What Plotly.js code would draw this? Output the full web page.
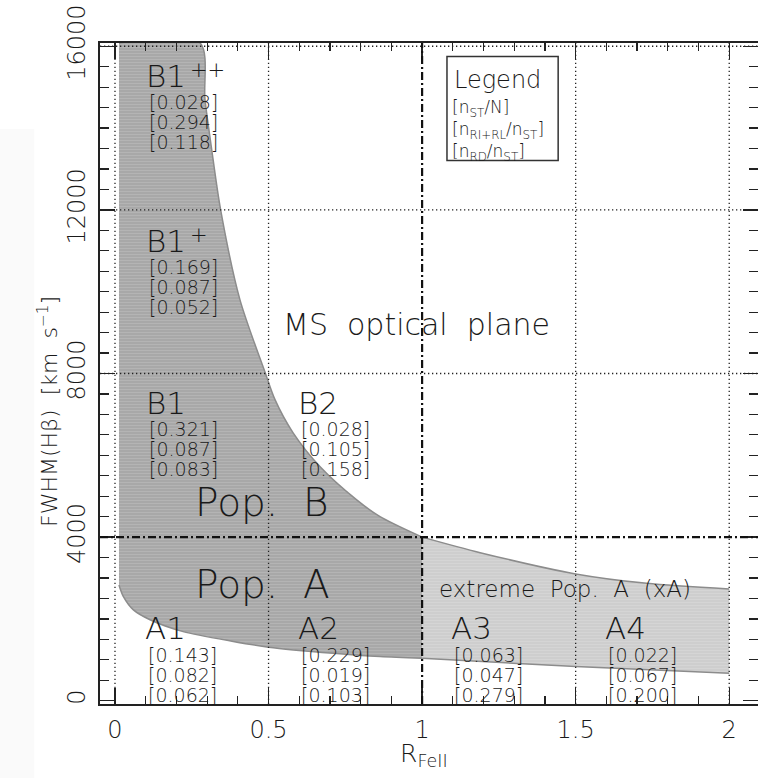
<!DOCTYPE html>
<html><head><meta charset="utf-8">
<script src="https://cdn.plot.ly/plotly-3.0.1.min.js"></script>
<style>body{margin:0;background:#fff}#chart{width:758px;height:778px}</style>
</head><body><div id="chart"></div>
<script>
// ---- data ----
// upper boundary: Pop.B / Pop.A separation curve (R_FeII, FWHM)
const upperX = [0.277, 0.293, 0.315, 0.344, 0.407, 0.490, 0.521, 0.580, 0.668, 0.787, 0.863, 1.0, 1.189, 1.5, 1.731, 2.0];
const upperY = [16080, 14700, 13470, 12000, 9800, 8000, 7360, 6550, 5720, 4910, 4500, 4000, 3620, 3100, 2870, 2730];
// lower boundary of the populated sequence
const lowerX = [0.013, 0.027, 0.060, 0.114, 0.222, 0.385, 0.500, 0.711, 0.863, 1.0, 1.5, 2.0];
const lowerY = [2830, 2550, 2220, 1980, 1690, 1450, 1310, 1160, 1080, 1040, 834, 673];
const regionLeftX = 0.013;
const regionTopY = 16080;
const gridXVals = [0, 0.5, 1.5, 2];
const gridYVals = [8000, 12000, 16000];
const boundaryX = 1;      // R_FeII = 1 (xA limit)
const boundaryY = 4000;   // FWHM = 4000 km/s (Pop. A / B)

const binNames = ['B1', 'B1', 'B1', 'B2', 'A1', 'A2', 'A3', 'A4'];
const binSup = ['++', '+', '', '', '', '', '', ''];
const fracST = [0.028, 0.169, 0.321, 0.028, 0.143, 0.229, 0.063, 0.022];
const fracRIRL = [0.294, 0.087, 0.087, 0.105, 0.082, 0.019, 0.047, 0.067];
const fracRD = [0.118, 0.052, 0.083, 0.158, 0.062, 0.103, 0.279, 0.200];
const legendRows = ['[n<sub>ST</sub>/N]', '[n<sub>RI+RL</sub>/n<sub>ST</sub>]', '[n<sub>RD</sub>/n<sub>ST</sub>]'];

// ---- layout positions (not data) ----
const binPos = [[0.107,15274],[0.107,11249],[0.107,7283],[0.602,7283],[0.104,1769],[0.602,1769],[1.101,1769],[1.602,1769]];
const rowShift = [-26.5, -46.5, -66.5];

const FONT = 'DejaVu Sans';
const TXT = '#1a1a1a';
const DARK = '#a8a8a8', DARK2 = '#b5b5b5', LIGHT = '#cecece', LIGHT2 = '#d6d6d6', EDGE = '#8c8c8c';

function sel(xs, ys, f){ const ox=[], oy=[]; xs.forEach((x,i)=>{ if(f(x)){ox.push(x); oy.push(ys[i]);} }); return [ox, oy]; }
const [dLx, dLy] = sel(lowerX, lowerY, x => x <= boundaryX);
const [dUx0, dUy0] = sel(upperX, upperY, x => x <= boundaryX);
const dUx = [regionLeftX].concat(dUx0), dUy = [regionTopY].concat(dUy0);
const [lLx, lLy] = sel(lowerX, lowerY, x => x >= boundaryX);
const [lUx, lUy] = sel(upperX, upperY, x => x >= boundaryX);

const traces = [
  {x: dLx, y: dLy, mode: 'lines', line: {color: EDGE, width: 1.5, shape: 'spline', smoothing: 0.8}, hoverinfo: 'skip', showlegend: false},
  {x: dUx, y: dUy, mode: 'lines', fill: 'tonexty', fillcolor: DARK,
   fillpattern: {shape: '-', bgcolor: DARK, fgcolor: DARK2, size: 3, solidity: 0.3},
   line: {color: EDGE, width: 1.5, shape: 'spline', smoothing: 0.8}, hoverinfo: 'skip', showlegend: false},
  {x: lLx, y: lLy, mode: 'lines', line: {color: EDGE, width: 1.5, shape: 'spline', smoothing: 0.8}, hoverinfo: 'skip', showlegend: false},
  {x: lUx, y: lUy, mode: 'lines', fill: 'tonexty', fillcolor: LIGHT,
   fillpattern: {shape: '-', bgcolor: LIGHT, fgcolor: LIGHT2, size: 3, solidity: 0.3},
   line: {color: EDGE, width: 1.5, shape: 'spline', smoothing: 0.8}, hoverinfo: 'skip', showlegend: false}
];

const shapes = [];
// faint scan strip at far left
shapes.push({type: 'rect', xref: 'paper', yref: 'paper', x0: -0.152, x1: -0.1, y0: -0.112, y1: 0.87, fillcolor: '#fafafa', line: {width: 0}, layer: 'below'});
gridXVals.forEach(v => shapes.push({type: 'line', xref: 'x', yref: 'paper', x0: v, x1: v, y0: 0, y1: 1, line: {color: '#222', width: 1.3, dash: '1.3px,2.7px'}, layer: 'above'}));
gridYVals.forEach(v => shapes.push({type: 'line', xref: 'paper', yref: 'y', x0: 0, x1: 1, y0: v, y1: v, line: {color: '#222', width: 1.3, dash: '1.3px,2.7px'}, layer: 'above'}));
shapes.push({type: 'line', xref: 'x', yref: 'paper', x0: boundaryX, x1: boundaryX, y0: 0, y1: 1, line: {color: '#111', width: 2.2, dash: '8px,3px,2px,3px'}, layer: 'above'});
shapes.push({type: 'line', xref: 'paper', yref: 'y', x0: 0, x1: 1, y0: boundaryY, y1: boundaryY, line: {color: '#111', width: 2.2, dash: '8px,3px,2px,3px'}, layer: 'above'});
// legend box
shapes.push({type: 'rect', xref: 'x', yref: 'y', x0: 1.081, x1: 1.443, y0: 13205, y1: 15749, line: {color: '#333', width: 1.5}, fillcolor: 'rgba(0,0,0,0)', layer: 'above'});

const ann = [];
const f = (size, w) => ({family: FONT, size: size, color: TXT, weight: w || 200});
binNames.forEach((name, i) => {
  const [bx, by] = binPos[i];
  ann.push({x: bx, y: by, xshift: -4, xref: 'x', yref: 'y', text: name, showarrow: false, xanchor: 'left', yanchor: 'middle', font: f(31)});
  if (binSup[i]) ann.push({x: bx, y: by, xshift: 40, yshift: 6, xref: 'x', yref: 'y', text: binSup[i], showarrow: false, xanchor: 'left', yanchor: 'middle', font: f(21, 300)});
  [fracST[i], fracRIRL[i], fracRD[i]].forEach((v, k) => {
    ann.push({x: bx - 0.004, y: by, yshift: rowShift[k], xref: 'x', yref: 'y', text: '[' + v.toFixed(3) + ']', showarrow: false, xanchor: 'left', yanchor: 'middle', font: f(19)});
  });
});
ann.push({x: 0.255, y: 4839, xref: 'x', yref: 'y', text: 'Pop.  B', showarrow: false, xanchor: 'left', yanchor: 'middle', font: f(39)});
ann.push({x: 0.255, y: 2833, xref: 'x', yref: 'y', text: 'Pop.  A', showarrow: false, xanchor: 'left', yanchor: 'middle', font: f(39)});
ann.push({x: 1.048, y: 2735, xref: 'x', yref: 'y', text: 'extreme  Pop.  A  (xA)', showarrow: false, xanchor: 'left', yanchor: 'middle', font: f(23)});
ann.push({x: 0.540, y: 9194, xref: 'x', yref: 'y', text: 'MS  optical  plane', showarrow: false, xanchor: 'left', yanchor: 'middle', font: f(30)});
ann.push({x: 1.097, y: 15180, xref: 'x', yref: 'y', text: 'Legend', showarrow: false, xanchor: 'left', yanchor: 'middle', font: f(24)});
ann.push({x: 1.092, y: 13950, xref: 'x', yref: 'y', text: legendRows.join('<br>'), align: 'left', showarrow: false, xanchor: 'left', yanchor: 'middle', font: f(17)});
// axis titles
ann.push({x: -0.0798, y: 0.4425, xref: 'paper', yref: 'paper', text: 'FWHM(H\u03B2)  [km  s<sup>\u22121</sup>]', textangle: -90, showarrow: false, xanchor: 'center', yanchor: 'middle', font: f(22)});
ann.push({x: 0.492, y: -0.077, xref: 'paper', yref: 'paper', text: 'R<sub>FeII</sub>', showarrow: false, xanchor: 'center', yanchor: 'middle', font: f(25)});

const axCommon = {showline: true, linecolor: '#222', linewidth: 1.6, mirror: 'ticks', ticks: 'inside', tickcolor: '#222', tickwidth: 1.4,
  showgrid: false, zeroline: false, tickfont: {family: FONT, size: 24, color: TXT, weight: 200}};
const layout = {
  width: 758, height: 778, margin: {l: 100, r: 0, t: 43, b: 74},
  paper_bgcolor: '#ffffff', plot_bgcolor: '#ffffff', showlegend: false,
  xaxis: Object.assign({}, axCommon, {range: [-0.0488, 2.0937], tickmode: 'linear', tick0: 0, dtick: 0.5, ticklen: 16, ticklabelstandoff: 4,
    minor: {tickmode: 'linear', tick0: 0, dtick: 0.1, ticks: 'inside', ticklen: 8, tickwidth: 1.2, tickcolor: '#222', showgrid: false}}),
  yaxis: Object.assign({}, axCommon, {range: [-80, 16080], tickmode: 'linear', tick0: 0, dtick: 4000, ticklen: 15, tickangle: -90, tickformat: 'd', ticklabelstandoff: 4,
    minor: {tickmode: 'linear', tick0: 0, dtick: 500, ticks: 'inside', ticklen: 9, tickwidth: 1.2, tickcolor: '#222', showgrid: false}}),
  shapes: shapes, annotations: ann
};
Plotly.newPlot('chart', traces, layout, {staticPlot: true, displayModeBar: false});
</script></body></html>
